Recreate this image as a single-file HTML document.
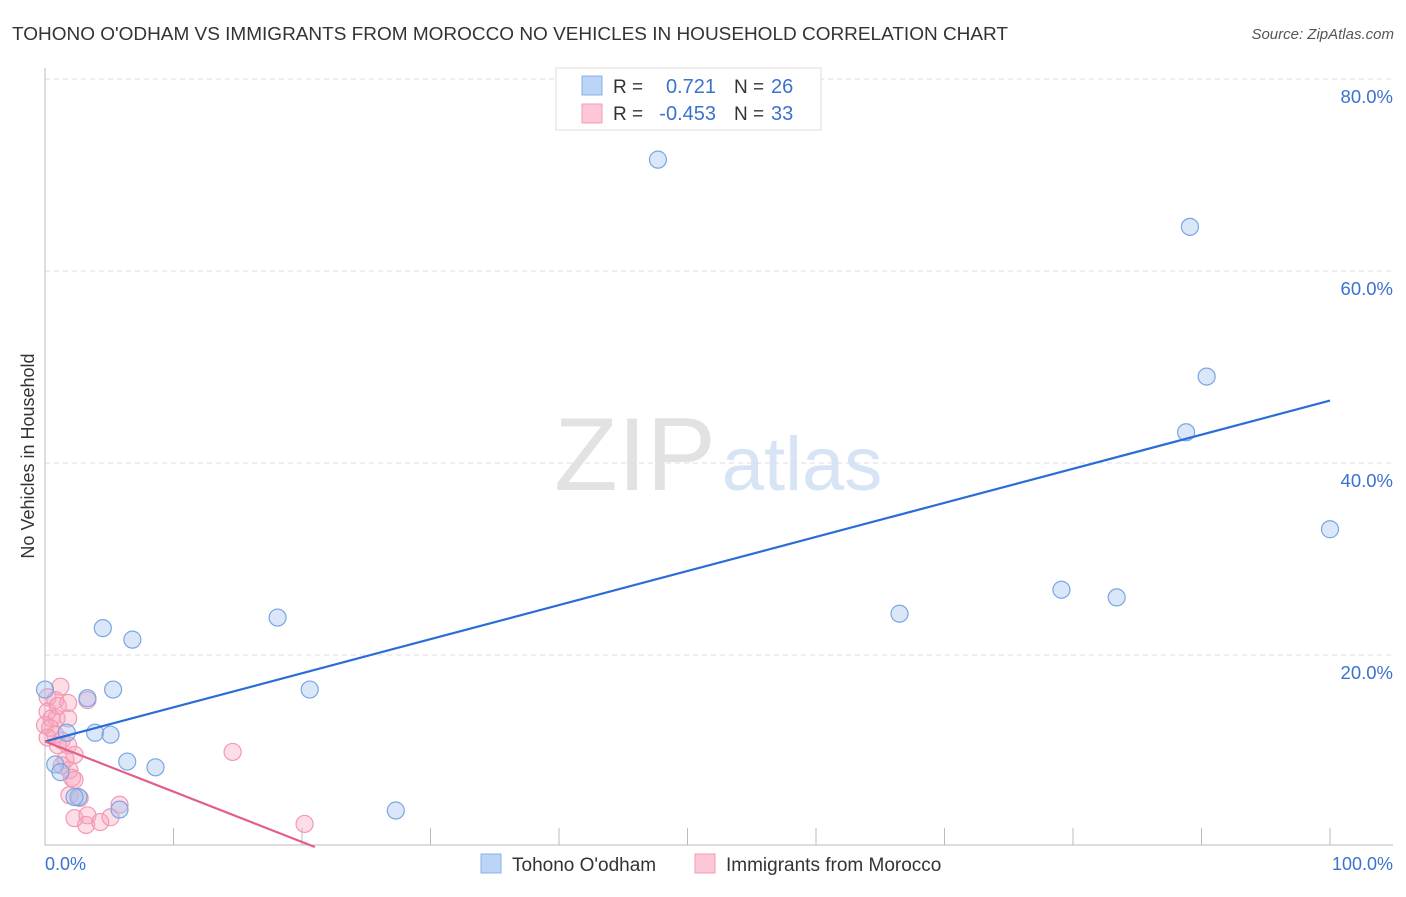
<!DOCTYPE html>
<html><head><meta charset="utf-8"><style>
body{margin:0;background:#fff;font-family:"Liberation Sans",sans-serif;}
svg text{font-family:"Liberation Sans",sans-serif;}
</style></head><body>
<svg width="1406" height="892" id="chart">
<text x="12" y="40" font-size="18" fill="#333" textLength="996" lengthAdjust="spacingAndGlyphs">TOHONO O'ODHAM VS IMMIGRANTS FROM MOROCCO NO VEHICLES IN HOUSEHOLD CORRELATION CHART</text>
<text x="1394" y="39" font-size="15" fill="#555" font-style="italic" text-anchor="end">Source: ZipAtlas.com</text>
<text x="34" y="456" font-size="18" fill="#333" text-anchor="middle" transform="rotate(-90 34 456)">No Vehicles in Household</text>
<g>
<text x="635" y="490" font-size="104" fill="#e2e2e2" font-family="Liberation Serif,serif" text-anchor="middle">ZIP</text>
<text x="802" y="490" font-size="76" fill="#d6e4f5" text-anchor="middle">atlas</text>
</g>
<g id="grid"></g><g id="axes"></g><g id="marks"></g>
<g>
<rect x="556" y="68" width="265" height="62" fill="#fff" stroke="#ddd"/>
<rect x="582" y="76" width="20" height="19" fill="#bcd4f5" stroke="#8ab0e6"/>
<rect x="582" y="104" width="20" height="19" fill="#fcc8d6" stroke="#f09ab4"/>
<text x="613" y="93" font-size="19" fill="#333">R = </text><text x="716" y="93" font-size="20" fill="#3a72d0" text-anchor="end">0.721</text>
<text x="734" y="93" font-size="19" fill="#333">N = </text><text x="771" y="93" font-size="20" fill="#3a72d0">26</text>
<text x="613" y="120" font-size="19" fill="#333">R = </text><text x="716" y="120" font-size="20" fill="#3a72d0" text-anchor="end">-0.453</text>
<text x="734" y="120" font-size="19" fill="#333">N = </text><text x="771" y="120" font-size="20" fill="#3a72d0">33</text>
</g>
<g>
<rect x="481" y="854" width="20" height="19" fill="#bcd4f5" stroke="#8ab0e6"/>
<text x="512" y="871" font-size="19" fill="#333">Tohono O'odham</text>
<rect x="695" y="854" width="20" height="19" fill="#fcc8d6" stroke="#f09ab4"/>
<text x="726" y="871" font-size="19" fill="#333">Immigrants from Morocco</text>
</g>
</svg>
<script>
const blueX=[0,4.5,6.8,5.3,3.3,3.9,5.1,1.7,0.8,1.2,6.4,8.6,2.6,2.3,5.8,18.1,20.6,27.3,47.7,66.5,79.1,83.4,89.1,90.4,88.8,100];
const blueY=[16.4,22.8,21.6,16.4,15.5,11.9,11.7,11.9,8.6,7.8,8.9,8.3,5.2,5.2,3.9,23.9,16.4,3.8,71.6,24.3,26.8,26.0,64.6,49.0,43.2,33.1];
const pinkX=[1.2,0.2,0.8,1.8,3.3,0.2,0.5,0.9,1.8,0,0.4,0.8,1.3,0.2,1.8,1.0,2.3,1.6,1.3,1.9,2.1,2.3,1.9,2.7,2.3,3.3,3.2,4.3,5.1,5.8,14.6,20.2,1.0];
const pinkY=[16.7,15.6,15.3,15.0,15.3,14.1,13.4,13.4,13.4,12.7,12.4,11.7,11.1,11.4,10.6,10.6,9.6,9.1,8.5,8.0,7.2,7.0,5.4,5.1,3.0,3.3,2.3,2.6,3.1,4.4,9.9,2.4,14.7];
const yTicks=[20,40,60,80];
const yTickLabels=["20.0%","40.0%","60.0%","80.0%"];
const xTicks=[10,20,30,40,50,60,70,80,90,100];
const blueLine=[0,11.0,100,46.5];
const pinkLine=[0,11.0,21,0];
const NS="http://www.w3.org/2000/svg";
const sx=v=>45+v*12.85, sy=v=>847-v*9.6;
function mk(parent,tag,attrs){const e=document.createElementNS(NS,tag);for(const k in attrs)e.setAttribute(k,attrs[k]);document.getElementById(parent).appendChild(e);return e;}
yTicks.forEach((t,i)=>{
 const g=mk('grid','line',{x1:45,x2:1393,y1:sy(t),y2:sy(t),stroke:'#ddd','stroke-dasharray':'5,4'});
 
 
 const l=mk('grid','text',{x:1393,y:sy(t)+24,'font-size':18.5,fill:'#3a72d0','text-anchor':'end'});
 l.textContent=yTickLabels[i];
 
 
});
const ax=mk('axes','path',{d:'M45 68 V845 H1393',stroke:'#bbb',fill:'none'});


xTicks.forEach(t=>{
 const tk=mk('axes','line',{x1:sx(t),x2:sx(t),y1:828,y2:845,stroke:'#bbb'});
 
 
});
const x0=mk('axes','text',{x:45,y:870,'font-size':18,fill:'#3a72d0'});x0.textContent='0.0%';


const x1=mk('axes','text',{x:1393,y:870,'font-size':18,fill:'#3a72d0','text-anchor':'end'});x1.textContent='100.0%';


pinkX.forEach((x,i)=>{
 const c=mk('marks','circle',{cx:sx(x),cy:sy(pinkY[i]),r:8.5,fill:'rgba(248,160,185,0.35)',stroke:'#f09ab4','stroke-width':1.2});
 
 
});
blueX.forEach((x,i)=>{
 const c=mk('marks','circle',{cx:sx(x),cy:sy(blueY[i]),r:8.5,fill:'rgba(160,195,240,0.4)',stroke:'#7aa6e2','stroke-width':1.2});
 
 
});
const bl=mk('marks','line',{x1:sx(blueLine[0]),y1:sy(blueLine[1]),x2:sx(blueLine[2]),y2:sy(blueLine[3]),stroke:'#2a6dd6','stroke-width':2.2});


const pl=mk('marks','line',{x1:sx(pinkLine[0]),y1:sy(pinkLine[1]),x2:sx(pinkLine[2]),y2:sy(pinkLine[3]),stroke:'#e0608a','stroke-width':2.2});


</script>
</body></html>
